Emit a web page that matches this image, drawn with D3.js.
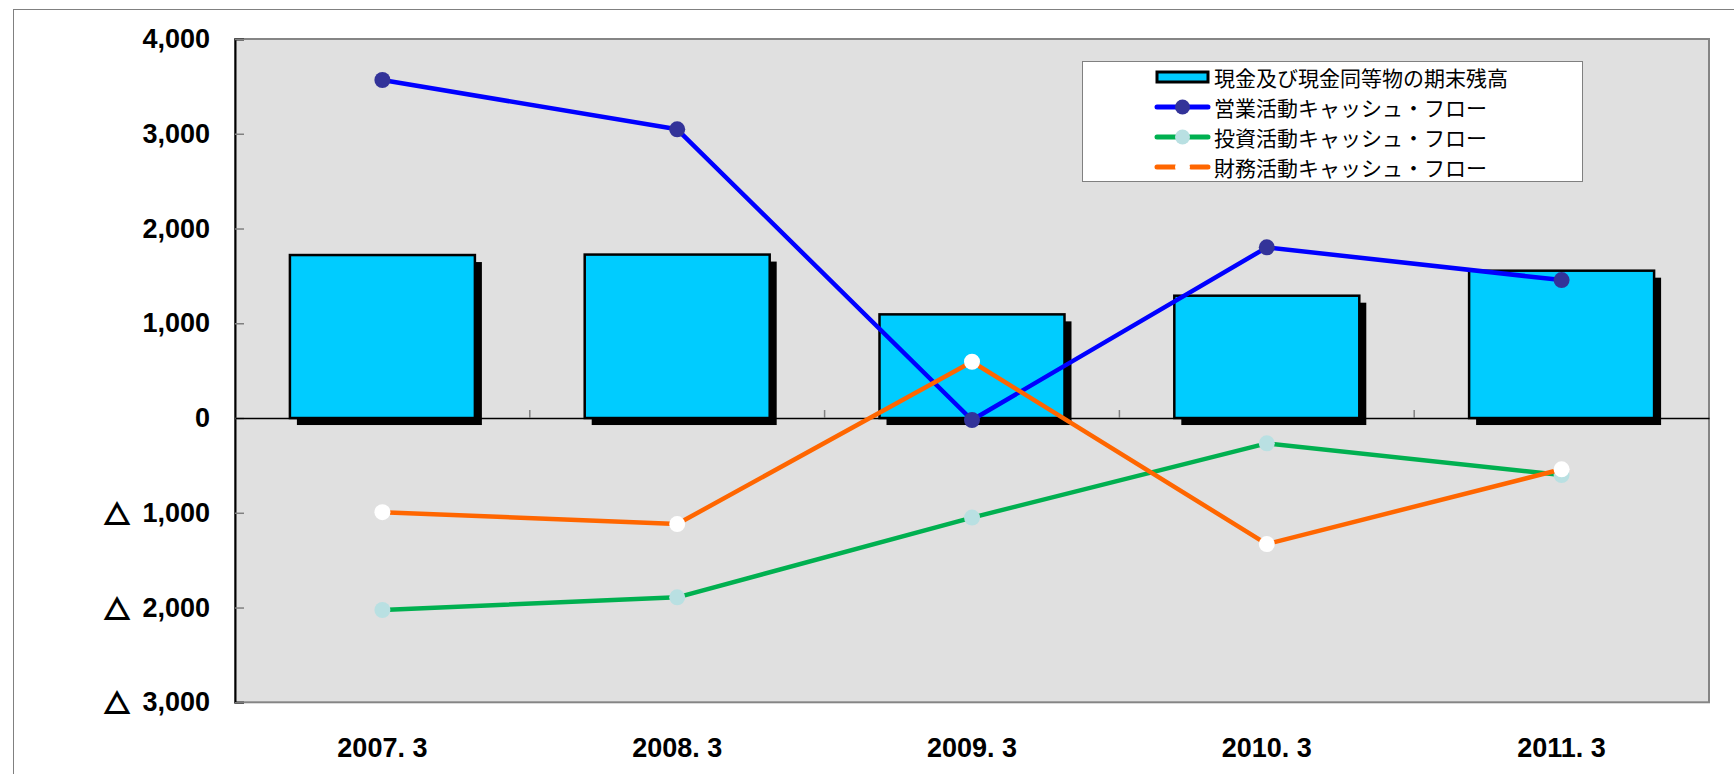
<!DOCTYPE html>
<html>
<head>
<meta charset="utf-8">
<script src="https://cdn.jsdelivr.net/npm/d3@7"></script>
<style>
  html, body { margin: 0; padding: 0; background: #ffffff; }
  svg { display: block; }
</style>
</head>
<body>
<svg id="chart" width="1734" height="774"></svg>
<script>
// Fiscal year-end periods
const categories = ["2007. 3", "2008. 3", "2009. 3", "2010. 3", "2011. 3"];
// 現金及び現金同等物の期末残高
const cashBalance = [1720, 1725, 1094, 1291, 1555];
// 営業活動キャッシュ・フロー
const operatingCF = [3567, 3047, -21, 1801, 1456];
// 投資活動キャッシュ・フロー
const investingCF = [-2026, -1892, -1051, -267, -601];
// 財務活動キャッシュ・フロー
const financingCF = [-994, -1119, 594, -1330, -541];
// Value axis ticks
const yTicks = [4000, 3000, 2000, 1000, 0, -1000, -2000, -3000];

const legendLabels = [
  "現金及び現金同等物の期末残高",
  "営業活動キャッシュ・フロー",
  "投資活動キャッシュ・フロー",
  "財務活動キャッシュ・フロー"
];

const svg = d3.select("#chart");
const plot = { left: 235, right: 1709, top: 39, bottom: 702.3 };

const x = d3.scaleBand()
  .domain(categories)
  .range([plot.left, plot.right])
  .paddingInner(0.3725)
  .paddingOuter(0.3725 / 2);
const cx = c => x(c) + x.bandwidth() / 2;

const y = d3.scaleLinear()
  .domain([-3000, 4000])
  .range([plot.bottom, plot.top]);

const labelFont = "'Liberation Sans', Arial, 'Noto Sans CJK JP', sans-serif";
const fmt = d3.format(",");

// Outer chart frame
svg.append("rect")
  .attr("x", 13.5).attr("y", 9.5)
  .attr("width", 1760).attr("height", 800)
  .attr("fill", "#ffffff")
  .attr("stroke", "#808080").attr("stroke-width", 1);

// Plot area
svg.append("rect")
  .attr("x", plot.left).attr("y", plot.top)
  .attr("width", plot.right - plot.left).attr("height", plot.bottom - plot.top)
  .attr("fill", "#e0e0e0")
  .attr("stroke", "#858585").attr("stroke-width", 2);

// Value axis with inward ticks
const yAxis = d3.axisRight(y)
  .tickValues(yTicks)
  .tickSize(9)
  .tickFormat("");
const yg = svg.append("g")
  .attr("transform", `translate(${plot.left},0)`)
  .call(yAxis);
yg.select(".domain").attr("stroke", "#000").attr("stroke-width", 2);
yg.selectAll(".tick line").attr("stroke", "#808080").attr("stroke-width", 1.5);

// Tick labels: negatives are written with a leading △
const yLabels = svg.append("g")
  .selectAll("text")
  .data(yTicks)
  .join("text")
  .attr("x", 210)
  .attr("y", d => y(d))
  .attr("text-anchor", "end")
  .attr("dominant-baseline", "central")
  .attr("font-family", labelFont)
  .attr("font-weight", "bold")
  .attr("font-size", 27)
  .attr("fill", "#000");
yLabels.filter(d => d < 0)
  .append("tspan")
  .attr("font-family", "'Noto Sans CJK JP', sans-serif")
  .attr("font-size", 25)
  .attr("stroke", "#000")
  .attr("stroke-width", 1.8)
  .text("△");
yLabels.append("tspan")
  .attr("dx", d => d < 0 ? 13 : 0)
  .text(d => fmt(Math.abs(d)));

// Bars with drop shadow
const bars = svg.append("g");
const barData = categories.map((c, i) => ({ c, v: cashBalance[i] }));
bars.selectAll("rect.shadow")
  .data(barData)
  .join("rect")
  .attr("class", "shadow")
  .attr("x", d => x(d.c) + 7)
  .attr("y", d => y(d.v) + 7)
  .attr("width", x.bandwidth())
  .attr("height", d => y(0) - y(d.v))
  .attr("fill", "#000");
bars.selectAll("rect.bar")
  .data(barData)
  .join("rect")
  .attr("class", "bar")
  .attr("x", d => x(d.c))
  .attr("y", d => y(d.v))
  .attr("width", x.bandwidth())
  .attr("height", d => y(0) - y(d.v))
  .attr("fill", "#00ccff")
  .attr("stroke", "#000")
  .attr("stroke-width", 2.5);

// Zero line and category ticks
const xAxis = d3.axisTop(x).tickSize(0).tickFormat("");
const xg = svg.append("g")
  .attr("transform", `translate(0,${y(0)})`)
  .call(xAxis);
xg.select(".domain").attr("stroke", "#000").attr("stroke-width", 1.5);
svg.append("g")
  .selectAll("line")
  .data(d3.range(1, categories.length))
  .join("line")
  .attr("x1", i => x(categories[i]) - x.step() * x.paddingInner() / 2)
  .attr("x2", i => x(categories[i]) - x.step() * x.paddingInner() / 2)
  .attr("y1", y(0))
  .attr("y2", y(0) - 8)
  .attr("stroke", "#808080")
  .attr("stroke-width", 1.5);

// Category labels
svg.append("g")
  .selectAll("text")
  .data(categories)
  .join("text")
  .attr("x", d => cx(d))
  .attr("y", 748)
  .attr("text-anchor", "middle")
  .attr("dominant-baseline", "central")
  .attr("font-family", labelFont)
  .attr("font-weight", "bold")
  .attr("font-size", 27)
  .attr("fill", "#000")
  .text(d => d);

// Cash-flow lines
const series = [
  { values: operatingCF, stroke: "#0000ff", marker: "#333399", dash: null },
  { values: investingCF, stroke: "#00b050", marker: "#b9e0e2", dash: null },
  { values: financingCF, stroke: "#ff6600", marker: "#ffffff", dash: "20,14" }
];
const line = d3.line().x(d => cx(d.c)).y(d => y(d.v));
series.forEach(s => {
  const pts = categories.map((c, i) => ({ c, v: s.values[i] }));
  const g = svg.append("g");
  g.append("path")
    .datum(pts)
    .attr("d", line)
    .attr("fill", "none")
    .attr("stroke", s.stroke)
    .attr("stroke-width", 4.5)
    .attr("stroke-linejoin", "round");
  g.selectAll("circle")
    .data(pts)
    .join("circle")
    .attr("cx", d => cx(d.c))
    .attr("cy", d => y(d.v))
    .attr("r", 8)
    .attr("fill", s.marker);
});

// Legend
const lg = svg.append("g");
lg.append("rect")
  .attr("x", 1082.5).attr("y", 61.5)
  .attr("width", 500).attr("height", 120)
  .attr("fill", "#ffffff")
  .attr("stroke", "#808080").attr("stroke-width", 1);
const rowY = i => 77 + i * 30;
const swX0 = 1157, swX1 = 1208;
// bar swatch
lg.append("rect")
  .attr("x", swX0).attr("y", rowY(0) - 5)
  .attr("width", swX1 - swX0).attr("height", 10)
  .attr("fill", "#00ccff")
  .attr("stroke", "#000").attr("stroke-width", 3);
series.forEach((s, i) => {
  const yy = rowY(i + 1);
  lg.append("line")
    .attr("x1", swX0).attr("x2", swX1)
    .attr("y1", yy).attr("y2", yy)
    .attr("stroke", s.stroke)
    .attr("stroke-width", 5)
    .attr("stroke-linecap", "round")
    .attr("stroke-dasharray", s.dash);
  lg.append("circle")
    .attr("cx", (swX0 + swX1) / 2).attr("cy", yy)
    .attr("r", 7.5)
    .attr("fill", s.marker);
});
lg.selectAll("text")
  .data(legendLabels)
  .join("text")
  .attr("x", 1214)
  .attr("y", (d, i) => rowY(i))
  .attr("dominant-baseline", "central")
  .attr("font-family", "'Noto Sans CJK JP', sans-serif")
  .attr("font-size", 21)
  .attr("fill", "#000")
  .text(d => d);
</script>
</body>
</html>
